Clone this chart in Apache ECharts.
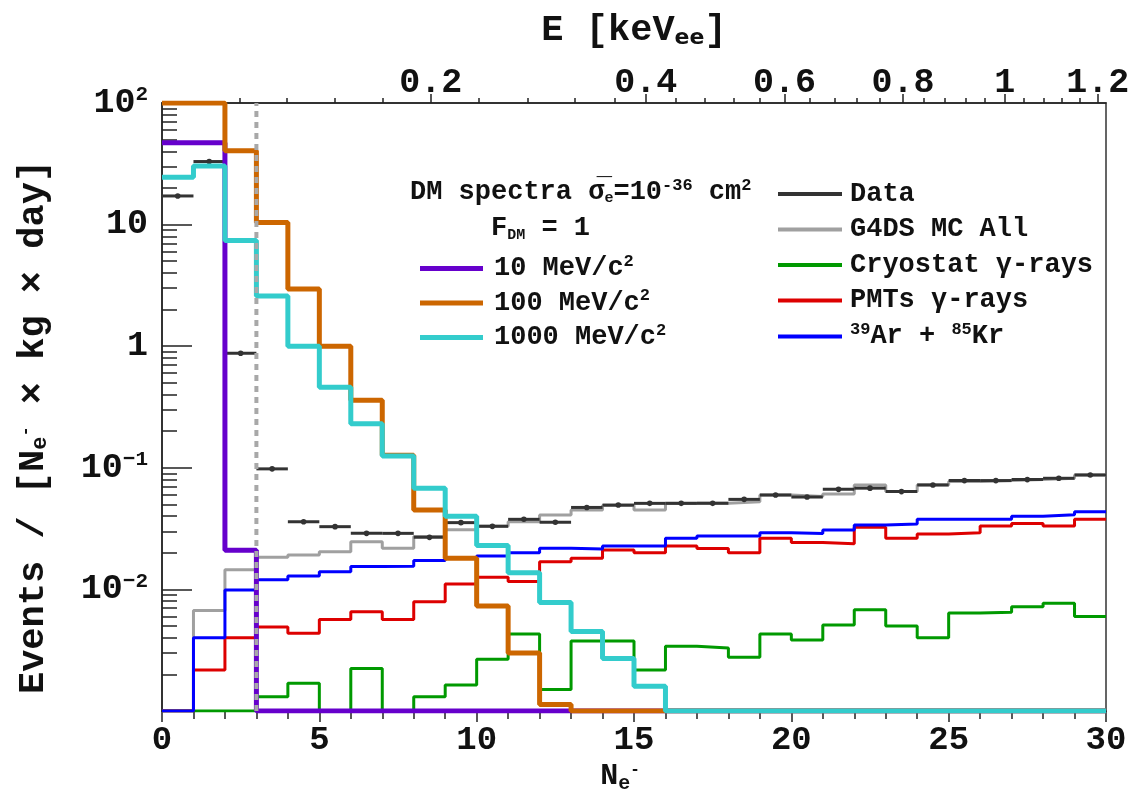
<!DOCTYPE html>
<html>
<head>
<meta charset="utf-8">
<script src="https://cdn.jsdelivr.net/npm/echarts@6/dist/echarts.min.js"></script>
<style>
html,body{margin:0;padding:0;background:#fff;}
#chart{width:1137px;height:803px;}
</style>
</head>
<body>
<div id="chart"></div>
<script>
// ---- data: one value per N_e- bin (bin i spans [i, i+1]) ----
const binEdges = [0,1,2,3,4,5,6,7,8,9,10,11,12,13,14,15,16,17,18,19,20,21,22,23,24,25,26,27,28,29,30];
const dm10   = [47,47,0.021,0,0,0,0,0,0,0,0,0,0,0,0,0,0,0,0,0,0,0,0,0,0,0,0,0,0,0];
const dm100  = [100,100,40.5,10.4,2.95,1.0,0.36,0.127,0.045,0.018,0.0073,0.003,0.00113,0,0,0,0,0,0,0,0,0,0,0,0,0,0,0,0,0];
const dm1000 = [24.5,30.3,7.4,2.59,1.0,0.46,0.23,0.125,0.068,0.040,0.023,0.0137,0.0078,0.0045,0.0027,0.0016,0,0,0,0,0,0,0,0,0,0,0,0,0,0];
const dataVals = [17.2,33,0.875,0.098,0.036,0.0328,0.0289,0.0289,0.0268,0.0354,0.033,0.0377,0.0357,0.0472,0.0494,0.051,0.051,0.051,0.055,0.0597,0.0575,0.0665,0.068,0.0637,0.0723,0.0785,0.0785,0.080,0.082,0.0873];
const mcAll  = [0,0.0067,0.0145,0.0184,0.0192,0.0204,0.0247,0.0218,0.0272,0.031,0.033,0.036,0.041,0.045,0.049,0.045,0.051,0.051,0.0527,0.0597,0.058,0.061,0.0723,0.0637,0.0723,0.077,0.0785,0.080,0.082,0.0873];
const cryo   = [0,0,0,0.00131,0.00169,0,0.00224,0,0.00131,0.00164,0.00266,0.0043,0.0015,0.00376,0.00376,0.00217,0.0034,0.0033,0.00277,0.0043,0.00384,0.0051,0.0068,0.005,0.0040,0.0064,0.0065,0.0072,0.0077,0.006];
const pmts   = [0,0.00217,0.0040,0.0049,0.00435,0.00566,0.00655,0.00566,0.0079,0.0111,0.0126,0.0116,0.0169,0.018,0.0211,0.020,0.0228,0.0217,0.020,0.0263,0.0243,0.0237,0.0324,0.0263,0.0286,0.0293,0.0332,0.0349,0.0332,0.0377];
const arkr   = [0,0.004,0.0099,0.012,0.0129,0.014,0.0154,0.0155,0.0173,0.018,0.0188,0.020,0.0218,0.0215,0.0228,0.0228,0.0263,0.0275,0.0275,0.0293,0.0288,0.0308,0.0339,0.0345,0.0377,0.0377,0.0377,0.040,0.0411,0.0436];
const thresholdNe = 3;
// top energy axis: E [keVee] tick labels and their N_e- positions
const topMajorNe = [8.54,15.37,19.78,23.55,26.78,29.74];
const topMajorLabels = ['0.2','0.4','0.6','0.8','1','1.2'];
const topMinorNe = [2.48,3.96,5.50,7.03,10.08,11.61,13.12,14.40,16.33,17.26,18.16,18.99,20.58,21.37,22.09,22.81,24.21,24.89,25.53,26.16,27.38,28.02,28.60,29.18];
const yTickVals = [0.001,0.01,0.1,1,10,100];
const yTickLabels = ['','10{sup|−2}','10{sup|−1}','1','10','10{sup|2}'];

const YMIN = 0.001, YMAX = 100;
const FONT = 'Liberation Mono';
function clampY(v){ return v <= YMIN ? YMIN : (v > YMAX ? YMAX : v); }
function steps(vals){
  const pts = vals.map((v,i)=>[binEdges[i], clampY(v)]);
  pts.push([binEdges[vals.length], clampY(vals[vals.length-1])]);
  return pts;
}
const yMinor = [];
for (let i = 0; i < yTickVals.length - 1; i++) {
  for (let k = 2; k <= 9; k++) yMinor.push(+(k * yTickVals[i]).toPrecision(3));
}

const chart = echarts.init(document.getElementById('chart'), null, {renderer:'canvas'});

function stepSeries(name, vals, color, width, z){
  return {name, type:'line', xAxisIndex:0, yAxisIndex:0, step:'end', data:steps(vals), z:z,
    symbol:'none', showSymbol:false, color, lineStyle:{color, width}, clip:true, animation:false};
}

const option = {
  backgroundColor:'#ffffff',
  animation:false,
  grid:{left:162, right:31, top:103, bottom:92, show:true, borderColor:'#333', borderWidth:1.5, backgroundColor:'transparent'},
  xAxis:[
    {type:'value', min:0, max:30, interval:5, position:'bottom',
     axisLine:{show:true, lineStyle:{color:'#222', width:1.5}},
     axisTick:{show:true, inside:false, length:11, lineStyle:{color:'#222', width:1.5}},
     minorTick:{show:true, splitNumber:5, length:8, lineStyle:{color:'#222', width:1.5}},
     splitLine:{show:false},
     axisLabel:{margin:12, fontFamily:FONT, fontWeight:'bold', fontSize:34, color:'#111'},
     name:'N{sub|e}{sup2|-}', nameLocation:'middle', nameGap:48,
     nameTextStyle:{fontFamily:FONT, fontWeight:'bold', fontSize:30, color:'#111', padding:[0,28,0,0],
       rich:{sub:{fontFamily:FONT, fontWeight:'bold', fontSize:20, verticalAlign:'bottom', padding:[14,0,0,0]},
             sup2:{fontFamily:FONT, fontWeight:'bold', fontSize:16, padding:[0,0,14,0]}}}
    },
    {type:'value', min:0, max:30, position:'top',
     axisLine:{show:true, lineStyle:{color:'#222', width:1.5}},
     axisTick:{show:true, inside:false, length:9, customValues:topMajorNe, lineStyle:{color:'#222', width:1.5}},
     splitLine:{show:false},
     axisLabel:{show:true, margin:2, customValues:topMajorNe, fontFamily:FONT, fontWeight:'bold', fontSize:35, color:'#111',
       formatter:function(v){ let best=0; for(let i=0;i<topMajorNe.length;i++){ if(Math.abs(topMajorNe[i]-v)<Math.abs(topMajorNe[best]-v)) best=i; } return topMajorLabels[best]; }},
     name:'E [keV{sub|ee}]', nameLocation:'middle', nameGap:54,
     nameTextStyle:{fontFamily:FONT, fontWeight:'bold', fontSize:37, color:'#111',
       rich:{sub:{fontFamily:'DejaVu Sans', fontWeight:'bold', fontSize:22, verticalAlign:'bottom', padding:[12,0,0,0]}}}
    },
    {type:'value', min:0, max:30, position:'top',
     axisLine:{show:false},
     axisTick:{show:true, inside:false, length:5, customValues:topMinorNe, lineStyle:{color:'#222', width:1.5}},
     axisLabel:{show:false}, splitLine:{show:false}
    }
  ],
  yAxis:[
    {type:'log', logBase:10, min:YMIN, max:YMAX, position:'left',
     axisLine:{show:true, lineStyle:{color:'#222', width:1.5}},
     axisTick:{show:true, inside:true, length:30, customValues:yTickVals, lineStyle:{color:'#222', width:1.5}},
     splitLine:{show:false},
     axisLabel:{margin:14, customValues:yTickVals, fontFamily:FONT, fontWeight:'bold', fontSize:35, color:'#111',
       formatter:function(v){ let best=0; for(let i=0;i<yTickVals.length;i++){ if(Math.abs(Math.log10(yTickVals[i])-Math.log10(v))<Math.abs(Math.log10(yTickVals[best])-Math.log10(v))) best=i; } return yTickLabels[best]; },
       rich:{sup:{fontFamily:FONT, fontWeight:'bold', fontSize:21, padding:[0,0,16,0]}}},
     name:'Events / [N{sub|e}{sup2|-} × kg × day]', nameLocation:'middle', nameGap:110, nameRotate:90,
     nameTextStyle:{fontFamily:FONT, fontWeight:'bold', fontSize:37, color:'#111', padding:[0,40,0,0],
       rich:{sub:{fontFamily:FONT, fontWeight:'bold', fontSize:22, padding:[14,0,0,0]},
             sup2:{fontFamily:FONT, fontWeight:'bold', fontSize:17, padding:[0,0,16,0]}}}
    },
    {type:'log', logBase:10, min:YMIN, max:YMAX, position:'left',
     axisLine:{show:false},
     axisTick:{show:true, inside:true, length:15, customValues:yMinor, lineStyle:{color:'#222', width:1.5}},
     axisLabel:{show:false}, splitLine:{show:false}
    }
  ],
  legend:[
    {orient:'vertical', left:415, top:248, itemWidth:63, itemHeight:5, itemGap:4, icon:'rect',
     data:['10 MeV/c2','100 MeV/c2','1000 MeV/c2'],
     formatter:function(n){ return n.replace('c2','c{sup|2}'); },
     textStyle:{fontFamily:FONT, fontWeight:'bold', fontSize:27, color:'#111', lineHeight:30, padding:[0,0,0,6],
       rich:{sup:{fontFamily:FONT, fontWeight:'bold', fontSize:17, padding:[0,0,14,0]}}}},
    {orient:'vertical', left:773, top:174, itemWidth:64, itemHeight:4, itemGap:5.5, icon:'rect',
     data:['Data','G4DS MC All','Cryostat γ-rays','PMTs γ-rays','39Ar + 85Kr'],
     formatter:function(n){ if(n==='39Ar + 85Kr') return '{sup|39}Ar + {sup|85}Kr'; return n; },
     textStyle:{fontFamily:FONT, fontWeight:'bold', fontSize:27, color:'#111', lineHeight:30, padding:[0,0,0,3],
       rich:{sup:{fontFamily:FONT, fontWeight:'bold', fontSize:17, padding:[0,0,14,0]}}}}
  ],
  graphic:[
    {type:'text', left:410, top:177, style:{
      text:'DM spectra {bar|σ̅}{sub|e}=10{sup|-36} cm{sup|2}',
      font:'bold 27px "Liberation Mono"', fill:'#111',
      rich:{bar:{font:'bold 27px "Liberation Mono"'},
            sub:{font:'bold 15px "Liberation Mono"', padding:[12,0,0,0]},
            sup:{font:'bold 17px "Liberation Mono"', padding:[0,0,14,0]}}}},
    {type:'text', left:491, top:215, style:{
      text:'F{sub|DM} = 1',
      font:'bold 27px "Liberation Mono"', fill:'#111',
      rich:{sub:{font:'bold 15px "Liberation Mono"', padding:[14,0,0,0]}}}}
  ],
  series:[
    stepSeries('G4DS MC All', mcAll, '#a0a0a0', 3, 2),
    {name:'Data', type:'custom', xAxisIndex:0, yAxisIndex:0, z:3, color:'#333333', itemStyle:{color:'#333333'},
     data:dataVals.map((v,i)=>[binEdges[i], v, binEdges[i+1]]),
     renderItem:function(params, api){
       const a = api.coord([api.value(0), api.value(1)]);
       const b = api.coord([api.value(2), api.value(1)]);
       return {type:'group', children:[
         {type:'line', shape:{x1:a[0], y1:a[1], x2:b[0], y2:b[1]}, style:{stroke:'#333333', lineWidth:3}},
         {type:'circle', shape:{cx:(a[0]+b[0])/2, cy:a[1], r:2.8}, style:{fill:'#333333'}}
       ]};
     }, animation:false},
    stepSeries('Cryostat γ-rays', cryo, '#009900', 3, 4),
    stepSeries('PMTs γ-rays', pmts, '#dd0000', 3, 4),
    stepSeries('39Ar + 85Kr', arkr, '#0000ff', 3, 4),
    stepSeries('10 MeV/c2', dm10, '#6600cc', 5, 5),
    stepSeries('100 MeV/c2', dm100, '#cc6600', 5, 5),
    stepSeries('1000 MeV/c2', dm1000, '#33cccc', 5, 5),
    {name:'threshold', type:'line', xAxisIndex:0, yAxisIndex:0, data:[[thresholdNe, YMIN],[thresholdNe, YMAX]],
     symbol:'none', lineStyle:{color:'#a8a8a8', width:4, type:[6,5]}, z:10, animation:false}
  ]
};
chart.setOption(option);
</script>
</body>
</html>
